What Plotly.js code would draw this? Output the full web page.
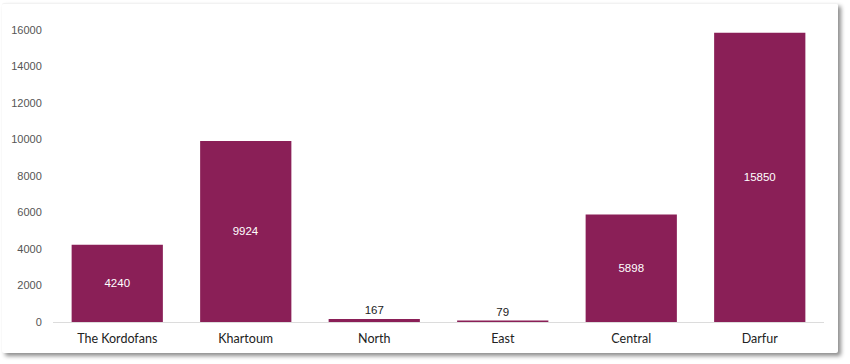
<!DOCTYPE html>
<html>
<head>
<meta charset="utf-8">
<script src="https://cdn.plot.ly/plotly-3.0.1.min.js"></script>
<style>
  html, body { margin:0; padding:0; background:#ffffff; width:850px; height:364px; overflow:hidden; }
  #card { position:absolute; left:2px; top:3px; width:836px; height:349px; background:#fff;
          box-shadow: 3px 3px 4px rgba(0,0,0,0.45); border-radius:2px; border-top:1px solid #f2f2f2; }
  #chart { position:absolute; left:0; top:0; width:850px; height:364px; }
</style>
</head>
<body>
<div id="card"></div>
<div id="chart"></div>
<script>
const categories = ["The Kordofans", "Khartoum", "North", "East", "Central", "Darfur"];
const values = [4240, 9924, 167, 79, 5898, 15850];
const yTicks = [0, 2000, 4000, 6000, 8000, 10000, 12000, 14000, 16000];

const labelFont = '"Liberation Sans", Arial, sans-serif';

const trace = {
  type: 'bar',
  x: categories,
  y: values,
  text: values.map(String),
  textposition: 'auto',
  insidetextanchor: 'middle',
  texttemplate: '%{text}',
  textfont: { family: labelFont, size: 11.5 },
  insidetextfont: { color: '#ffffff', family: labelFont, size: 11.5 },
  outsidetextfont: { color: '#222222', family: labelFont, size: 11.5 },
  marker: { color: '#8A1F57', line: { width: 0 } },
  cliponaxis: false,
  hoverinfo: 'none'
};

const layout = {
  width: 850, height: 364,
  margin: { l: 53, r: 26, t: 21, b: 42 },
  paper_bgcolor: 'rgba(0,0,0,0)',
  plot_bgcolor: 'rgba(0,0,0,0)',
  bargap: 0.29,
  showlegend: false,
  font: { family: 'Lato, sans-serif' },
  xaxis: {
    type: 'category',
    showgrid: false,
    zeroline: false,
    showline: true, linecolor: '#dcdcdc', linewidth: 1,
    ticks: 'outside', ticklen: 5, tickcolor: 'rgba(0,0,0,0)',
    tickfont: { family: 'Lato, sans-serif', size: 12.5, color: '#222222' }
  },
  yaxis: {
    range: [0, 16500],
    tickvals: yTicks,
    ticktext: yTicks.map(String),
    showgrid: false,
    zeroline: false,
    showline: false,
    ticks: 'outside', ticklen: 8, tickcolor: 'rgba(0,0,0,0)',
    tickfont: { family: labelFont, size: 11, color: '#555555' }
  }
};

Plotly.newPlot('chart', [trace], layout, { displayModeBar: false, staticPlot: true });
</script>
</body>
</html>
